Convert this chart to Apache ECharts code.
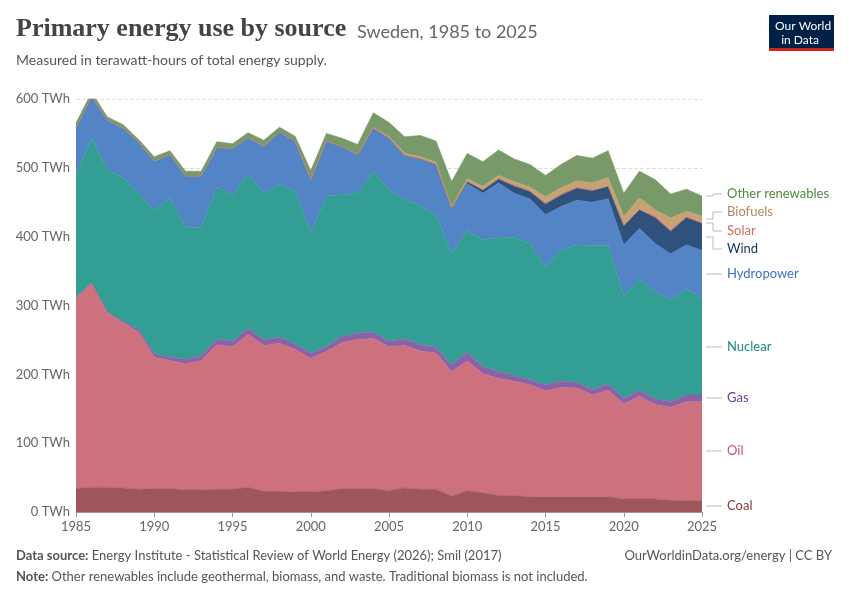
<!DOCTYPE html>
<html><head><meta charset="utf-8">
<script src="https://cdn.jsdelivr.net/npm/echarts@6/dist/echarts.min.js"></script>
<style>html,body{margin:0;padding:0;background:#fff}#c{width:850px;height:600px}</style>
</head><body><div id="c"></div>
<script>
const years = [];
for (let y = 1985; y <= 2025; y++) years.push(String(y));
const coal = [34,36,36,35,33,34,34,32,32,33,33,36,30,30,29,29,31,34,34,34,31,35,33,33,23,31,28,24,24,22,22,22,22,22,22,19,19,19,17,16,16];
const oil = [277,296,254,240,228,191,186,183,188,210,207,222,212,215,207,194,202,212,217,218,209,207,201,198,181,188,173,170,166,163,154,159,158,148,155,138,149,137,135,144,144];
const gas = [1,1,1,2,4,5,5,7,7,8,8,9,8,9,8,8,7,9,9,9,8,9,9,8,10,13,10,10,8,7,9,9,8,8,9,8,9,8,8,10,10];
const nuclear = [178,210,206,209,198,208,231,191,186,221,212,224,213,222,222,174,219,206,203,234,220,203,202,193,161,177,185,194,201,198,171,191,200,209,201,149,161,156,148,154,141];
const hydro = [68,61,72,72,74,72,63,75,75,58,68,53,68,76,73,78,80,70,56,62,74,63,67,71,64,68,67,80,64,65,76,63,65,63,68,74,74,70,67,64,69];
const wind = [0,0,0,0,0,0,0,0,0,0,0,0,0,0,0,0,0,0,0,1,1,1,1,2,2,3,5,6,11,11,16,17,18,17,18,28,27,38,33,40,39];
const solar = [0,0,0,0,0,0,0,0,0,0,0,0,0,0,0,0,0,0,0,0,0,0,0,0,0,0,0,0,0,0,0,0,0,0,1,1,1,4,3,2,3];
const biofuels = [0,0,0,0,0,0,0,0,0,0,0,0,0,0,0,0,0,0,0,1,2,3,3,3,2,4,5,5,6,6,10,10,10,11,12,12,16,7,16,7,8];
const other = [7,6,5,5,4,6,6,7,7,8,7,7,9,7,7,13,11,12,15,21,21,24,31,31,37,37,36,37,33,33,31,34,37,36,39,34,39,44,35,32,29];
const yTicks = [0,100,200,300,400,500,600];

const defs = [
 ['Coal', coal, '#9f565b', '#8b3a3a', 506],
 ['Oil', oil, '#cd717f', '#c2566e', 451],
 ['Gas', gas, '#8b62a8', '#6a3d9a', 398],
 ['Nuclear', nuclear, '#339e94', '#1a8a80', 347],
 ['Hydropower', hydro, '#5284c6', '#3d6fc4', 274],
 ['Wind', wind, '#2f527d', '#1c3866', 249],
 ['Solar', solar, '#e8866e', '#d46a5a', 231],
 ['Biofuels', biofuels, '#c8a275', '#b4875c', 212],
 ['Other renewables', other, '#779a68', '#4f8a3f', 194]
];
const series = defs.map(d => ({
  name: d[0], type: 'line', stack: 'e', symbol: 'none',
  data: d[1],
  lineStyle: {width: 0.6, color: d[2]}, itemStyle: {color: d[2]},
  areaStyle: {color: d[2], opacity: 1}
}));
const graphics = [];
defs.forEach(d => graphics.push({type: 'text', left: 727, top: d[4] - 7,
  style: {text: d[0], fill: d[3], font: '13px Lato, sans-serif'}}));
// leader lines
const leaders = [[196,194],[219,212],[223,231],[237,249]];
leaders.forEach(l => graphics.push({type:'polyline', shape:{points:[[706,l[0]],[713,l[0]],[713,l[1]],[722,l[1]]]}, style:{stroke:'#bbb', lineWidth:1, fill:null}}));
[274,347,398,451,506].forEach(y => graphics.push({type:'line', shape:{x1:706,y1:y,x2:722,y2:y}, style:{stroke:'#bbb', lineWidth:1}}));
graphics.push(
 {type:'text', left:16, top:16, style:{text:'Primary energy use by source', fill:'#444', font:'bold 26px "Liberation Serif", serif'}},
 {type:'text', left:357, top:23, style:{text:'Sweden, 1985 to 2025', fill:'#666', font:'18px Lato, sans-serif'}},
 {type:'text', left:16, top:53, style:{text:'Measured in terawatt-hours of total energy supply.', fill:'#555', font:'14px Lato, sans-serif'}},
 {type:'rect', shape:{x:769, y:15, width:65, height:35}, style:{fill:'#002147'}},
 {type:'rect', shape:{x:769, y:48, width:65, height:3}, style:{fill:'#ce261e'}},
 {type:'text', left:775, top:19, style:{text:'Our World\n  in Data', fill:'#fff', font:'12px Lato, sans-serif', lineHeight:14}},
 {type:'text', left:16, top:549, style:{rich:{b:{fill:'#555', font:'bold 13px Lato, sans-serif'}, n:{fill:'#555', font:'13px Lato, sans-serif'}}, text:'{b|Data source:} {n|Energy Institute - Statistical Review of World Energy (2026); Smil (2017)}'}},
 {type:'text', right:18, top:549, style:{text:'OurWorldinData.org/energy | CC BY', fill:'#555', font:'13px Lato, sans-serif'}},
 {type:'text', left:16, top:570, style:{rich:{b:{fill:'#555', font:'bold 13px Lato, sans-serif'}, n:{fill:'#555', font:'13px Lato, sans-serif'}}, text:'{b|Note:} {n|Other renewables include geothermal, biomass, and waste. Traditional biomass is not included.}'}}
);
const chart = echarts.init(document.getElementById('c'));
chart.setOption({
  animation: false,
  grid: {left: 76, right: 148, top: 99, bottom: 88},
  xAxis: {type: 'category', data: years, boundaryGap: false,
    axisLine: {lineStyle: {color: '#999'}},
    axisTick: {show: true, interval: 4, lineStyle: {color: '#999'}},
    splitLine: {show: false},
    axisLabel: {color: '#666', fontSize: 13, fontFamily: 'Lato', interval: 4}},
  yAxis: {type: 'value', min: 0, max: 600, interval: 100,
    axisLine: {show: false}, axisTick: {show: false},
    splitLine: {lineStyle: {type: 'dashed', color: '#ddd'}},
    axisLabel: {color: '#666', fontSize: 13, fontFamily: 'Lato', margin: 6, formatter: v => yTicks.includes(v) ? v + ' TWh' : ''}},
  series: series,
  graphic: graphics
});
</script></body></html>
